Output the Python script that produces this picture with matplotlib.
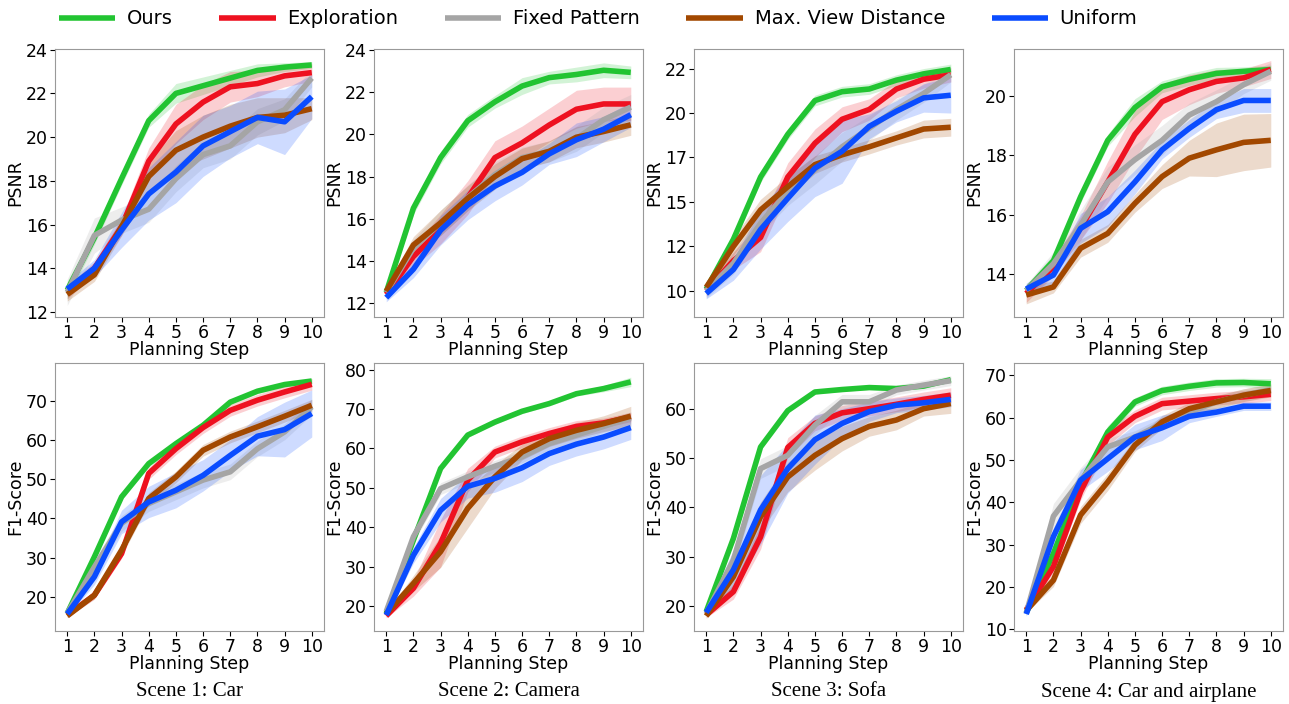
import matplotlib
matplotlib.use("Agg")
import matplotlib.pyplot as plt
import numpy as np

steps = list(range(1, 11))
methods = ["Ours", "Exploration", "Fixed Pattern", "Max. View Distance", "Uniform"]
colors = ["#22c432", "#ee1120", "#a5a5a5", "#a24800", "#0a4cff"]
scenes = ["Scene 1: Car", "Scene 2: Camera", "Scene 3: Sofa", "Scene 4: Car and airplane"]

# PSNR means, one dict per scene
psnr_s1 = {
    "Ours": [13.0, 15.4, 18.1, 20.75, 22.0, 22.35, 22.7, 23.05, 23.2, 23.3],
    "Exploration": [12.9, 14.0, 15.9, 18.9, 20.6, 21.6, 22.3, 22.45, 22.8, 22.95],
    "Fixed Pattern": [12.9, 15.5, 16.2, 16.7, 18.1, 19.2, 19.6, 20.7, 21.25, 22.7],
    "Max. View Distance": [12.8, 13.7, 15.9, 18.2, 19.4, 20.0, 20.5, 20.9, 21.0, 21.3],
    "Uniform": [13.05, 14.0, 15.75, 17.4, 18.4, 19.6, 20.25, 20.9, 20.7, 21.85],
}
psnr_s2 = {
    "Ours": [12.5, 16.5, 18.9, 20.65, 21.55, 22.3, 22.7, 22.85, 23.05, 22.95],
    "Exploration": [12.4, 14.2, 15.5, 17.0, 18.9, 19.6, 20.45, 21.2, 21.45, 21.45],
    "Fixed Pattern": [12.5, 14.6, 15.8, 17.0, 18.1, 18.9, 19.2, 19.8, 20.7, 21.3],
    "Max. View Distance": [12.55, 14.75, 15.8, 16.97, 18.0, 18.85, 19.2, 19.87, 20.14, 20.46],
    "Uniform": [12.25, 13.6, 15.45, 16.65, 17.55, 18.2, 19.08, 19.75, 20.25, 20.94],
}
psnr_s3 = {
    "Ours": [10.1, 12.9, 16.4, 18.8, 20.7, 21.2, 21.35, 21.85, 22.2, 22.45],
    "Exploration": [10.0, 11.7, 13.0, 16.4, 18.3, 19.65, 20.2, 21.35, 21.9, 22.15],
    "Fixed Pattern": [10.0, 11.55, 13.8, 15.6, 16.8, 18.1, 19.15, 20.2, 21.1, 22.15],
    "Max. View Distance": [10.2, 12.5, 14.55, 15.85, 17.1, 17.65, 18.1, 18.6, 19.1, 19.2],
    "Uniform": [9.85, 11.2, 13.45, 15.2, 16.9, 17.85, 19.25, 20.1, 20.85, 21.0],
}
psnr_s4 = {
    "Ours": [13.45, 14.45, 16.6, 18.5, 19.6, 20.3, 20.55, 20.75, 20.82, 20.88],
    "Exploration": [13.35, 14.25, 15.55, 17.1, 18.7, 19.8, 20.2, 20.48, 20.6, 20.88],
    "Fixed Pattern": [13.45, 14.35, 15.65, 17.1, 17.85, 18.5, 19.35, 19.8, 20.37, 20.82],
    "Max. View Distance": [13.3, 13.57, 14.87, 15.37, 16.38, 17.28, 17.9, 18.18, 18.43, 18.5],
    "Uniform": [13.5, 13.97, 15.54, 16.1, 17.1, 18.18, 18.9, 19.53, 19.84, 19.84],
}

# PSNR spread (shaded band half-width)
psnr_s1_std = {
    "Ours": [0.4, 0.3, 0.3, 0.3, 0.45, 0.4, 0.35, 0.3, 0.2, 0.15],
    "Exploration": [0.3, 0.3, 0.4, 0.6, 0.9, 0.8, 0.7, 0.6, 0.5, 0.4],
    "Fixed Pattern": [0.6, 0.8, 0.6, 0.6, 0.6, 0.6, 0.6, 0.6, 0.5, 0.4],
    "Max. View Distance": [0.3, 0.3, 0.4, 0.7, 0.9, 1.0, 1.0, 0.9, 0.8, 0.5],
    "Uniform": [0.3, 0.4, 0.8, 1.2, 1.4, 1.4, 1.2, 1.2, 1.5, 1.0],
}
psnr_s2_std = {
    "Ours": [0.2, 0.3, 0.3, 0.3, 0.3, 0.4, 0.3, 0.35, 0.35, 0.3],
    "Exploration": [0.2, 0.5, 0.7, 0.8, 0.8, 0.8, 0.8, 0.9, 0.8, 0.8],
    "Fixed Pattern": [0.2, 0.4, 0.6, 0.6, 0.6, 0.5, 0.5, 0.6, 0.6, 0.6],
    "Max. View Distance": [0.2, 0.4, 0.6, 0.6, 0.6, 0.5, 0.5, 0.5, 0.5, 0.5],
    "Uniform": [0.2, 0.4, 0.7, 0.7, 0.7, 0.6, 0.5, 0.8, 0.6, 0.6],
}
psnr_s3_std = {
    "Ours": [0.3, 0.3, 0.3, 0.3, 0.3, 0.3, 0.3, 0.3, 0.3, 0.3],
    "Exploration": [0.3, 0.5, 0.8, 0.8, 0.8, 0.7, 0.6, 0.5, 0.5, 0.4],
    "Fixed Pattern": [0.4, 0.6, 0.6, 0.8, 0.8, 0.8, 0.7, 0.6, 0.5, 0.4],
    "Max. View Distance": [0.3, 0.5, 0.6, 0.6, 0.5, 0.4, 0.4, 0.4, 0.5, 0.5],
    "Uniform": [0.3, 0.6, 1.1, 1.3, 1.6, 1.8, 0.7, 0.6, 0.8, 1.0],
}
psnr_s4_std = {
    "Ours": [0.2, 0.2, 0.2, 0.2, 0.3, 0.2, 0.2, 0.2, 0.15, 0.15],
    "Exploration": [0.3, 0.3, 0.4, 0.7, 0.8, 0.6, 0.5, 0.4, 0.3, 0.3],
    "Fixed Pattern": [0.2, 0.4, 0.5, 0.5, 0.5, 0.5, 0.4, 0.4, 0.3, 0.3],
    "Max. View Distance": [0.3, 0.2, 0.3, 0.3, 0.3, 0.4, 0.6, 0.9, 0.95, 0.9],
    "Uniform": [0.2, 0.3, 0.5, 0.5, 0.4, 0.3, 0.3, 0.3, 0.4, 0.4],
}

# F1-score means
f1_s1 = {
    "Ours": [15.75, 30.2, 45.5, 54.0, 59.1, 63.8, 69.7, 72.5, 74.2, 75.1],
    "Exploration": [15.3, 20.4, 31.0, 51.5, 57.8, 63.2, 67.6, 70.2, 72.3, 74.25],
    "Fixed Pattern": [15.75, 27.6, 38.7, 43.8, 46.8, 49.8, 51.9, 57.8, 62.1, 68.5],
    "Max. View Distance": [15.1, 20.4, 31.9, 45.1, 50.6, 57.4, 60.8, 63.4, 66.1, 68.9],
    "Uniform": [15.6, 25.1, 39.1, 44.2, 47.2, 51.0, 56.1, 61.0, 62.7, 66.8],
}
f1_s2 = {
    "Ours": [18.1, 36.7, 54.9, 63.4, 66.7, 69.45, 71.4, 73.9, 75.2, 76.9],
    "Exploration": [17.5, 24.5, 35.9, 51.95, 59.1, 61.7, 63.8, 65.6, 66.5, 68.0],
    "Fixed Pattern": [18.6, 37.6, 49.8, 52.8, 55.5, 57.9, 61.25, 63.4, 65.6, 67.8],
    "Max. View Distance": [18.0, 25.75, 33.8, 44.8, 52.8, 59.1, 62.5, 64.6, 66.3, 68.2],
    "Uniform": [17.7, 32.9, 44.3, 50.4, 52.4, 55.1, 58.7, 61.1, 62.9, 65.3],
}
f1_s3 = {
    "Ours": [18.8, 33.7, 52.3, 59.7, 63.5, 64.0, 64.4, 64.2, 64.7, 66.0],
    "Exploration": [18.1, 22.85, 34.0, 52.2, 57.1, 59.25, 60.1, 61.0, 62.0, 62.85],
    "Fixed Pattern": [18.4, 29.3, 47.9, 50.6, 56.75, 61.5, 61.5, 63.9, 64.9, 65.8],
    "Max. View Distance": [17.9, 25.9, 38.1, 46.2, 50.6, 54.0, 56.5, 57.8, 60.1, 61.15],
    "Uniform": [18.6, 27.3, 39.5, 47.9, 53.8, 57.1, 59.5, 60.8, 61.3, 62.0],
}
f1_s4 = {
    "Ours": [13.9, 27.9, 44.4, 56.6, 63.7, 66.4, 67.4, 68.2, 68.3, 68.0],
    "Exploration": [14.6, 24.8, 42.5, 55.4, 60.3, 63.3, 63.9, 64.5, 64.9, 65.5],
    "Fixed Pattern": [13.8, 36.7, 45.2, 53.1, 55.4, 58.6, 61.3, 63.7, 65.3, 66.6],
    "Max. View Distance": [14.4, 21.6, 37.0, 44.8, 53.5, 59.0, 62.1, 63.7, 65.3, 66.4],
    "Uniform": [13.6, 31.9, 45.2, 50.3, 55.4, 57.6, 60.3, 61.3, 62.7, 62.7],
}

f1_s1_std = {
    "Ours": [0.5, 0.7, 0.8, 0.8, 0.8, 0.8, 0.7, 0.6, 0.6, 0.6],
    "Exploration": [0.5, 1.0, 1.2, 1.5, 1.5, 1.5, 1.5, 1.5, 1.5, 1.5],
    "Fixed Pattern": [0.5, 2.0, 2.0, 2.0, 2.0, 2.0, 2.0, 2.0, 2.0, 2.0],
    "Max. View Distance": [0.5, 1.0, 1.5, 1.5, 1.5, 1.5, 1.5, 1.5, 1.5, 1.5],
    "Uniform": [0.5, 2.0, 3.0, 4.0, 4.5, 4.0, 4.0, 5.0, 7.0, 6.0],
}
f1_s2_std = {
    "Ours": [0.5, 0.6, 0.6, 0.6, 0.6, 0.6, 0.6, 0.6, 0.8, 1.2],
    "Exploration": [0.5, 2.0, 6.0, 3.0, 1.5, 1.5, 1.5, 1.5, 1.2, 1.2],
    "Fixed Pattern": [0.5, 1.5, 1.5, 1.5, 1.5, 1.5, 1.5, 1.5, 1.5, 1.5],
    "Max. View Distance": [0.5, 2.0, 4.0, 5.0, 3.0, 2.0, 2.0, 2.0, 2.0, 2.5],
    "Uniform": [0.5, 2.0, 3.0, 3.0, 3.5, 3.5, 3.0, 3.0, 3.0, 3.0],
}
f1_s3_std = {
    "Ours": [0.5, 0.6, 0.6, 0.5, 0.4, 0.4, 0.4, 0.4, 0.4, 0.5],
    "Exploration": [0.5, 1.5, 2.5, 2.0, 1.5, 1.5, 1.5, 1.5, 1.5, 1.5],
    "Fixed Pattern": [0.5, 2.0, 2.0, 2.0, 2.0, 1.5, 1.5, 1.0, 1.0, 1.0],
    "Max. View Distance": [0.5, 2.0, 3.0, 3.0, 3.0, 2.5, 2.0, 2.0, 1.5, 2.0],
    "Uniform": [0.5, 4.0, 7.0, 5.0, 5.0, 3.0, 2.0, 1.5, 1.5, 1.5],
}
f1_s4_std = {
    "Ours": [0.5, 1.0, 1.5, 1.5, 1.0, 1.0, 1.0, 1.0, 1.0, 1.2],
    "Exploration": [0.5, 1.5, 2.0, 2.0, 1.5, 1.5, 1.5, 1.5, 1.5, 1.5],
    "Fixed Pattern": [0.5, 3.0, 3.0, 2.0, 1.5, 1.5, 1.5, 1.5, 1.5, 1.5],
    "Max. View Distance": [0.5, 1.5, 2.0, 2.0, 1.5, 1.5, 1.5, 1.5, 1.5, 1.5],
    "Uniform": [0.5, 2.0, 2.5, 3.0, 3.0, 3.0, 1.5, 1.0, 1.0, 1.0],
}

psnr_means = [psnr_s1, psnr_s2, psnr_s3, psnr_s4]
psnr_stds = [psnr_s1_std, psnr_s2_std, psnr_s3_std, psnr_s4_std]
f1_means = [f1_s1, f1_s2, f1_s3, f1_s4]
f1_stds = [f1_s1_std, f1_s2_std, f1_s3_std, f1_s4_std]

psnr_ylims = [(11.77, 24.03), (11.33, 24.06), (8.53, 23.6), (12.56, 21.57)]
psnr_ticks = [np.arange(12, 25, 2), np.arange(12, 25, 2), [10, 12.5, 15, 17.5, 20, 22.5], [14, 16, 18, 20]]
f1_ylims = [(11.24, 79.7), (13.66, 81.7), (14.85, 69.4), (9.6, 72.9)]
f1_ticks = [np.arange(20, 71, 10), np.arange(20, 81, 10), np.arange(20, 61, 10), np.arange(10, 71, 10)]

W, H = 1289, 704
fig = plt.figure(figsize=(W / 100, H / 100), dpi=100)

col_left = [55, 374, 694, 1014]
ax_w = 269
rows = [(49, 317), (363, 631)]
fs = 12.5


def draw(ax, means, stds, ylim, ticks, ylabel):
    x = np.array(steps)
    for m, c in zip(methods, colors):
        mu = np.array(means[m])
        sd = np.array(stds[m])
        ax.fill_between(x, mu - sd, mu + sd, color=c, alpha=0.2, linewidth=0)
    for m, c in zip(methods, colors):
        ax.plot(x, means[m], color=c, lw=4, label=m, solid_capstyle="butt")
    ax.set_ylim(*ylim)
    ax.set_yticks(ticks)
    ax.set_yticklabels([str(int(t)) for t in ticks])
    ax.set_xticks(steps)
    ax.set_xlabel("Planning Step", fontsize=fs, labelpad=-1)
    ax.set_ylabel(ylabel, fontsize=fs, labelpad=1)
    ax.tick_params(labelsize=fs, length=3.5, pad=1.5)
    for s in ax.spines.values():
        s.set_color("#999999")


for i in range(4):
    for r, (top, bot) in enumerate(rows):
        rect = [col_left[i] / W, 1 - bot / H, ax_w / W, (bot - top) / H]
        ax = fig.add_axes(rect)
        if r == 0:
            draw(ax, psnr_means[i], psnr_stds[i], psnr_ylims[i], psnr_ticks[i], "PSNR")
        else:
            draw(ax, f1_means[i], f1_stds[i], f1_ylims[i], f1_ticks[i], "F1-Score")
    fig.text((col_left[i] + ax_w / 2) / W, 1 - 692 / H, scenes[i],
             ha="center", va="center", fontsize=15, family="Liberation Serif")

handles, labels = ax.get_legend_handles_labels()
fig.legend(handles, labels, loc="center", bbox_to_anchor=(598 / W, 1 - 19 / H), ncol=5,
           frameon=False, fontsize=14, handlelength=2.9, handletextpad=0.6, columnspacing=2.4)

fig.savefig("out.png", dpi=100)
